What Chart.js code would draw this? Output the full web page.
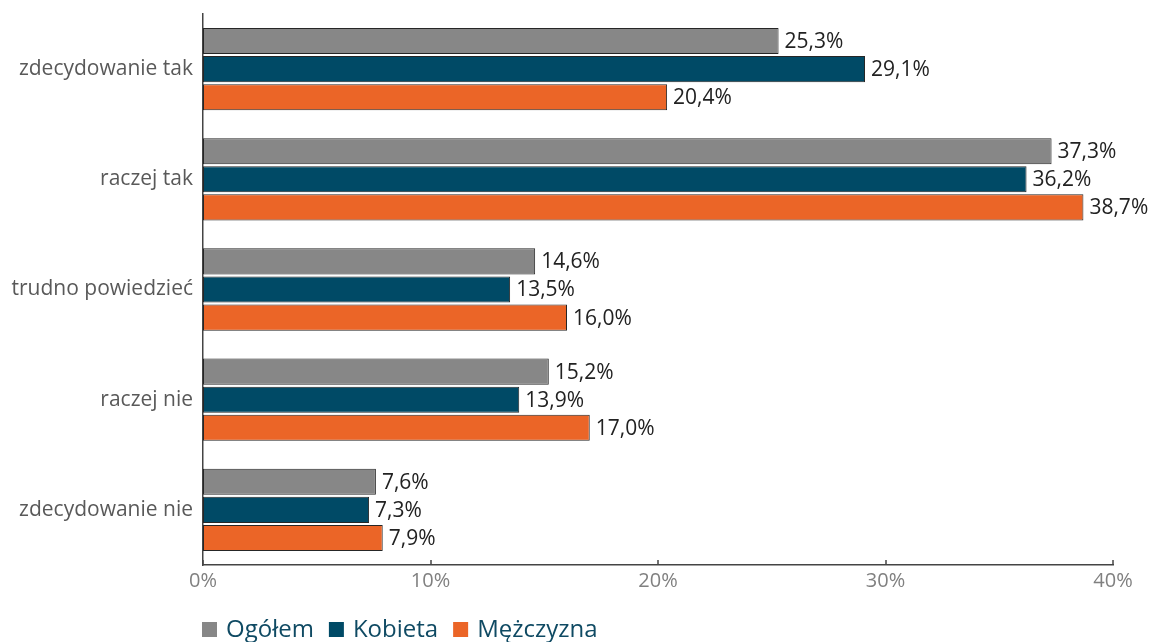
<!DOCTYPE html>
<html>
<head>
<meta charset="utf-8">
<script src="https://cdn.jsdelivr.net/npm/chart.js@4.4.1/dist/chart.umd.min.js"></script>
<style>
  html, body { margin: 0; padding: 0; background: #fff; }
  #wrap { width: 1150px; height: 642px; position: relative; }
</style>
</head>
<body>
<div id="wrap"><canvas id="c"></canvas></div>
<script>
const categories = ['zdecydowanie tak', 'raczej tak', 'trudno powiedzieć', 'raczej nie', 'zdecydowanie nie'];
const seriesNames = ['Ogółem', 'Kobieta', 'Mężczyzna'];
const ogolem = [25.3, 37.3, 14.6, 15.2, 7.6];
const kobieta = [29.1, 36.2, 13.5, 13.9, 7.3];
const mezczyzna = [20.4, 38.7, 16.0, 17.0, 7.9];
const xTickValues = [0, 10, 20, 30, 40];

const FONT = "'Open Sans', 'DejaVu Sans', sans-serif";
const colors = ['#878787', '#004a66', '#eb6527'];

const valueLabels = {
  id: 'valueLabels',
  afterDatasetsDraw(chart) {
    const ctx = chart.ctx;
    ctx.save();
    ctx.font = '21px ' + FONT;
    ctx.fillStyle = '#222222';
    ctx.textAlign = 'left';
    ctx.textBaseline = 'middle';
    chart.data.datasets.forEach((ds, di) => {
      const meta = chart.getDatasetMeta(di);
      meta.data.forEach((el, i) => {
        const v = ds.data[i];
        ctx.fillText(v.toFixed(1).replace('.', ',') + '%', el.x + 6, el.y + 1);
      });
    });
    ctx.restore();
  }
};

const tickMarks = {
  id: 'tickMarks',
  afterDraw(chart) {
    const xs = chart.scales.x;
    const ctx = chart.ctx;
    ctx.save();
    ctx.strokeStyle = '#444444';
    ctx.lineWidth = 1.5;
    xTickValues.forEach(v => {
      const px = Math.round(xs.getPixelForValue(v));
      ctx.beginPath();
      ctx.moveTo(px, xs.top);
      ctx.lineTo(px, xs.top - 5);
      ctx.stroke();
    });
    ctx.restore();
  }
};

const bottomLegend = {
  id: 'bottomLegend',
  afterDraw(chart) {
    const ctx = chart.ctx;
    ctx.save();
    ctx.font = '24px ' + FONT;
    ctx.textBaseline = 'middle';
    ctx.textAlign = 'left';
    let x = chart.chartArea.left - 1;
    const yc = 630;
    chart.data.datasets.forEach((ds, i) => {
      ctx.fillStyle = ds.backgroundColor;
      ctx.fillRect(x, yc - 8, 15, 15);
      x += 24;
      ctx.fillStyle = '#0f4a63';
      ctx.fillText(ds.label, x, yc);
      x += ctx.measureText(ds.label).width + 15;
    });
    ctx.restore();
  }
};

new Chart(document.getElementById('c'), {
  type: 'bar',
  data: {
    labels: categories,
    datasets: [
      { label: seriesNames[0], data: ogolem, backgroundColor: colors[0] },
      { label: seriesNames[1], data: kobieta, backgroundColor: colors[1] },
      { label: seriesNames[2], data: mezczyzna, backgroundColor: colors[2] }
    ].map(d => Object.assign(d, {
      borderColor: '#262626',
      borderWidth: 1,
      borderSkipped: false,
      categoryPercentage: 0.765,
      barPercentage: 0.93
    }))
  },
  options: {
    indexAxis: 'y',
    responsive: true,
    maintainAspectRatio: false,
    animation: false,
    devicePixelRatio: 1,
    layout: { padding: { top: 14, right: 37, left: 0, bottom: 0 } },
    scales: {
      x: {
        min: 0, max: 40,
        afterBuildTicks(scale) { scale.ticks = xTickValues.map(v => ({ value: v })); },
        afterFit(scale) { scale.height = 77; scale.paddingLeft = 0; scale.paddingRight = 0; },
        grid: { display: false, drawTicks: false },
        border: { display: true, color: '#444444', width: 1.5 },
        ticks: {
          padding: 4,
          color: '#808080',
          font: { family: FONT, size: 20 },
          callback: v => v + '%',
          maxRotation: 0
        }
      },
      y: {
        afterFit(scale) { scale.width = 203; scale.paddingTop = 0; scale.paddingBottom = 0; },
        grid: { display: false, drawTicks: false },
        border: { display: true, color: '#444444', width: 1.5 },
        ticks: {
          padding: 10,
          color: '#595959',
          font: { family: FONT, size: 21 }
        }
      }
    },
    plugins: {
      tooltip: { enabled: false },
      legend: { display: false }
    }
  },
  plugins: [valueLabels, tickMarks, bottomLegend]
});
</script>
</body>
</html>
